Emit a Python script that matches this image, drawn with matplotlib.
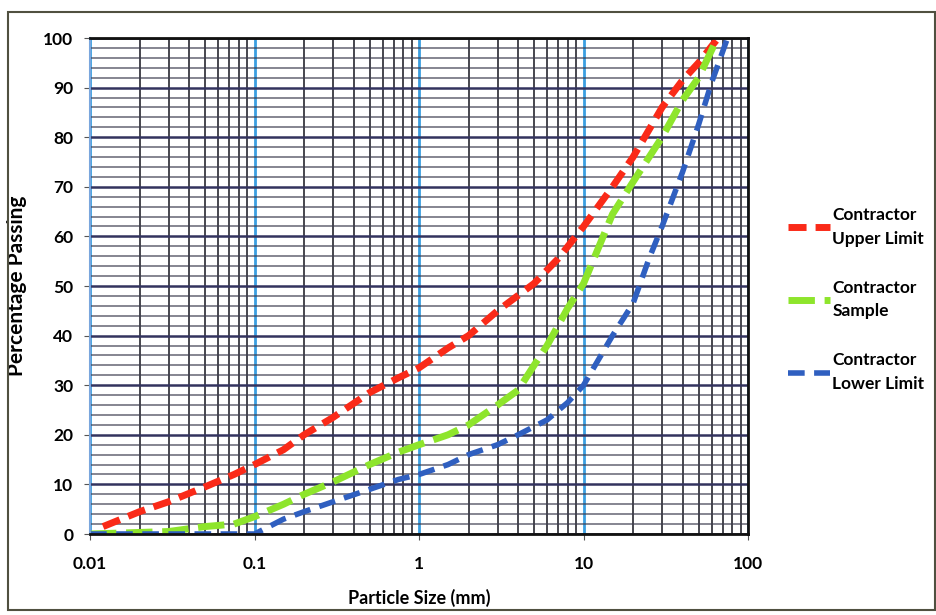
import numpy as np
import matplotlib
matplotlib.use("Agg")
import matplotlib.pyplot as plt
from matplotlib.ticker import LogLocator, MultipleLocator, FixedLocator
from matplotlib.patches import Rectangle

plt.rcParams['font.family'] = ['Lato', 'DejaVu Sans']

# sieve sizes (mm) and percentage passing
upper_x = [0.012, 0.02, 0.03, 0.05, 0.075, 0.1, 0.15, 0.2, 0.3, 0.5, 0.75, 1,
           1.5, 2, 3, 5, 7, 10, 15, 20, 30, 40, 50, 64]
upper_y = [1.5, 4.5, 6.5, 9.5, 12, 14, 17, 20, 23.5, 28.5, 31.5, 33.5,
           37.5, 40, 45, 50.5, 55.5, 62, 70, 76, 86, 91.5, 95, 99.5]

sample_x = [0.01, 0.03, 0.05, 0.075, 0.1, 0.15, 0.2, 0.3, 0.5, 0.75, 1, 1.5,
            2, 3, 4, 5, 6, 7, 8, 10, 15, 20, 30, 40, 50, 64]
sample_y = [0, 0.5, 1.5, 2, 3.5, 6, 8, 10.5, 14, 16.5, 18, 20,
            22, 26, 29, 34, 38, 42, 45.5, 50.5, 64.5, 71, 80, 87.5, 92, 99.5]

lower_x = [0.01, 0.1, 0.15, 0.2, 0.3, 0.5, 0.75, 1, 1.5, 2, 3, 4, 6, 8,
           10, 12, 15, 20, 25, 30, 40, 50, 60, 75]
lower_y = [0, 0, 3, 4.5, 6.5, 9, 11, 12, 14, 16, 18, 20, 23, 26.5,
           30, 34.5, 40, 46.5, 55.5, 62, 73, 82.5, 91, 100]

labels = ['Contractor\nUpper Limit', 'Contractor\nSample', 'Contractor\nLower Limit']
colors = ['#fa2a18', '#8ee52c', '#2f5fc0']

fig = plt.figure(figsize=(9.36, 6.15), dpi=100)
ax = fig.add_axes([0.0962, 0.1317, 0.703, 0.8065])

ax.set_xscale('log')
ax.set_xlim(0.01, 100)
ax.set_ylim(0, 100)

ax.xaxis.set_major_locator(FixedLocator([0.01, 0.1, 1, 10, 100]))
ax.xaxis.set_minor_locator(LogLocator(base=10, subs=np.arange(2, 10)))
ax.xaxis.set_minor_formatter(plt.NullFormatter())
ax.set_xticklabels(['0.01', '0.1', '1', '10', '100'])
ax.yaxis.set_major_locator(MultipleLocator(10))
ax.yaxis.set_minor_locator(MultipleLocator(2))

ax.grid(which='minor', axis='x', color='#26262f', lw=1.4, alpha=0.85)
ax.grid(which='major', axis='x', color='#3a9ee0', lw=2.0)
ax.grid(which='minor', axis='y', color='#3e3e50', lw=1.1, alpha=0.8)
ax.grid(which='major', axis='y', color='#33335e', lw=1.8)
ax.set_axisbelow(True)

ax.plot(upper_x, upper_y, color=colors[0], lw=5, ls=(0, (2.6, 1.3)),
        label=labels[0])
ax.plot(sample_x, sample_y, color=colors[1], lw=5, ls=(0, (3.8, 1.4)),
        label=labels[1])
ax.plot(lower_x, lower_y, color=colors[2], lw=4, ls=(0, (3.0, 1.7)),
        label=labels[2])

for s in ['top', 'right', 'bottom']:
    ax.spines[s].set_color('#111111')
    ax.spines[s].set_linewidth(2)
ax.spines['left'].set_color('#7aa6dd')
ax.spines['left'].set_linewidth(1.5)

ax.tick_params(axis='both', which='major', labelsize=12.5, length=4,
               color='#555555')
ax.tick_params(axis='both', which='minor', length=0)
for t in ax.get_xticklabels() + ax.get_yticklabels():
    t.set_fontweight('bold')
ax.tick_params(axis='x', pad=12)
ax.tick_params(axis='y', pad=8)

ax.set_xlabel('Particle Size (mm)', fontsize=13, fontweight='bold', labelpad=12)
ax.set_ylabel('Percentage Passing', fontsize=15, fontweight='bold', labelpad=12)

leg = fig.legend(loc='center left', bbox_to_anchor=(788 / 936, 0.513),
                 frameon=False, fontsize=12.5, handlelength=2.4,
                 handletextpad=0.15, labelspacing=1.9, borderpad=0,
                 borderaxespad=0)
for txt in leg.get_texts():
    txt.set_fontweight('bold')
    txt.set_linespacing(1.6)

fig.patches.append(Rectangle((8 / 936, 5 / 615), 927 / 936, 598 / 615,
                             transform=fig.transFigure, fill=False,
                             edgecolor='#505040', lw=1.5))

fig.savefig('out.png', dpi=100)
